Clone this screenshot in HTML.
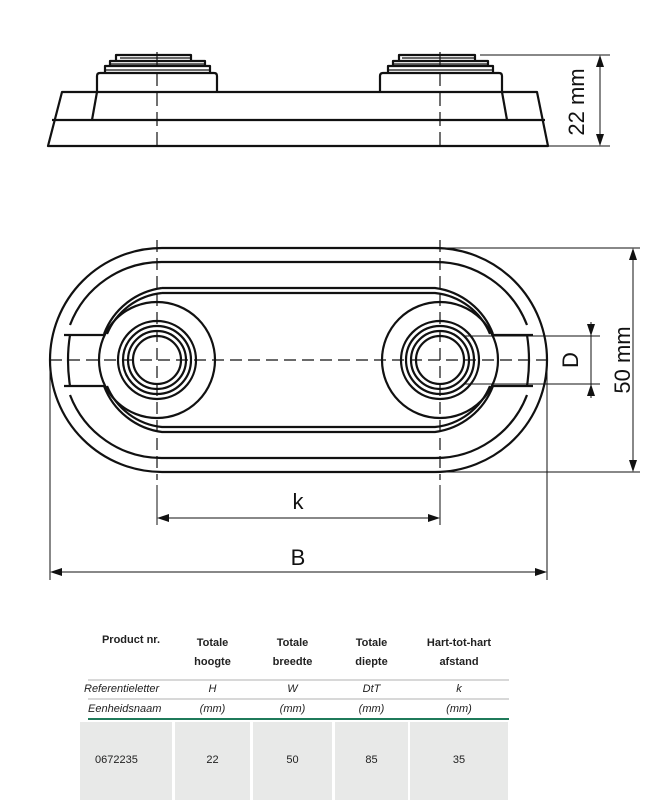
<!DOCTYPE html>
<html><head><style>
body{margin:0;width:664px;height:800px;background:#fff;overflow:hidden;position:relative;font-family:"Liberation Sans",sans-serif}
svg{position:absolute;left:0;top:0}
.t{position:absolute;font-size:11px;color:#222;text-align:center}
.b{font-weight:bold}
.i{font-style:italic}
</style></head><body>
<svg width="664" height="800" viewBox="0 0 664 800" fill="none" stroke="#111">
<g stroke-width="2.2" stroke-linejoin="round">
<polygon points="48,146 548,146 537,92 62,92"/>
<line x1="52" y1="120" x2="545" y2="120"/>
<line x1="97" y1="92" x2="92" y2="120"/><line x1="502" y1="92" x2="507" y2="120"/>
<path d="M97,92 V76 Q97,73 100,73 H214 Q217,73 217,76 V92"/>
<path d="M380,92 V76 Q380,73 383,73 H499 Q502,73 502,76 V92"/>
<path d="M105,73 V66 H210 V73 M110,66 V61 H205 V66 M116,61 V55 H191 V61"/>
<path d="M388,73 V66 H493 V73 M393,66 V61 H488 V66 M399,61 V55 H475 V61"/>
</g>
<g stroke-width="1.2">
<line x1="120" y1="58" x2="190" y2="58"/><line x1="402" y1="58" x2="475" y2="58"/>
<line x1="110" y1="64" x2="205" y2="64"/><line x1="393" y1="64" x2="488" y2="64"/>
<line x1="106" y1="70" x2="210" y2="70"/><line x1="388" y1="70" x2="493" y2="70"/>
</g>
<g stroke-width="1.2" stroke-dasharray="14,6">
<line x1="157" y1="52" x2="157" y2="146"/><line x1="440" y1="52" x2="440" y2="146"/>
</g>
<g stroke-width="1">
<line x1="480" y1="55" x2="610" y2="55"/><line x1="548" y1="146" x2="610" y2="146"/>
<line x1="600" y1="58" x2="600" y2="143"/>
</g>
<path d="M600,55 l-4,12 h8z M600,146 l-4,-12 h8z" fill="#111" stroke="none"/>

<g stroke-width="2.2">
<path d="M162,248 H435 A112,112 0 0 1 435,472 H162 A112,112 0 0 1 162,248Z"/>
<path d="M162,262 H435 A98,98 0 0 1 527,325 M527,395 A98,98 0 0 1 435,458 H162 A98,98 0 0 1 70,395 M70,325 A98,98 0 0 1 162,262"/>
<path d="M162,288 H435 A72,72 0 0 1 493,334 M493,386 A72,72 0 0 1 435,432 H162 A72,72 0 0 1 104,386 M104,334 A72,72 0 0 1 162,288"/>
<path d="M162,293 H435 A67,67 0 0 1 490,334 M490,386 A67,67 0 0 1 435,427 H162 A67,67 0 0 1 107,386 M107,334 A67,67 0 0 1 162,293"/>
<path d="M64,335 H104 M64,386 H104 M533,335 H493 M533,386 H493"/>
<path d="M70,335 Q66,360 70,386 M527,335 Q531,360 527,386"/>
<circle cx="157" cy="360" r="58"/><circle cx="440" cy="360" r="58"/>
<circle cx="157" cy="360" r="39"/><circle cx="440" cy="360" r="39"/>
<circle cx="157" cy="360" r="34"/><circle cx="440" cy="360" r="34"/>
<circle cx="157" cy="360" r="29"/><circle cx="440" cy="360" r="29"/>
<circle cx="157" cy="360" r="24"/><circle cx="440" cy="360" r="24"/>
</g>
<g stroke-width="1.2" stroke-dasharray="12,6">
<line x1="50" y1="360" x2="547" y2="360"/>
<line x1="157" y1="240" x2="157" y2="480"/><line x1="440" y1="240" x2="440" y2="480"/>
</g>
<g stroke-width="1">
<line x1="440" y1="248" x2="640" y2="248"/><line x1="440" y1="472" x2="640" y2="472"/>
<line x1="633" y1="251" x2="633" y2="469"/>
<line x1="464" y1="336" x2="600" y2="336"/><line x1="464" y1="384" x2="600" y2="384"/>
<line x1="591" y1="322" x2="591" y2="398"/>
<line x1="157" y1="485" x2="157" y2="525"/><line x1="440" y1="485" x2="440" y2="525"/>
<line x1="160" y1="518" x2="437" y2="518"/>
<line x1="50" y1="365" x2="50" y2="580"/><line x1="547" y1="365" x2="547" y2="580"/>
<line x1="53" y1="572" x2="544" y2="572"/>
</g>
<path d="M633,248 l-4,12 h8z M633,472 l-4,-12 h8z M591,336 l-4,-12 h8z M591,384 l-4,12 h8z M157,518 l12,-4 v8z M440,518 l-12,-4 v8z M50,572 l12,-4 v8z M547,572 l-12,-4 v8z" fill="#111" stroke="none"/>
<text x="298" y="509" font-size="22" fill="#111" stroke="none" text-anchor="middle" font-family="Liberation Sans">k</text>
<text x="298" y="565" font-size="22" fill="#111" stroke="none" text-anchor="middle" font-family="Liberation Sans">B</text>
<text transform="translate(584,102) rotate(-90)" font-size="22" fill="#111" stroke="none" text-anchor="middle" font-family="Liberation Sans">22 mm</text>
<text transform="translate(630,360) rotate(-90)" font-size="22" fill="#111" stroke="none" text-anchor="middle" font-family="Liberation Sans">50 mm</text>
<text transform="translate(578,360) rotate(-90)" font-size="22" fill="#111" stroke="none" text-anchor="middle" font-family="Liberation Sans">D</text>

<rect x="80" y="722" width="92" height="78" fill="#e8e9e8" stroke="none"/>
<rect x="175" y="722" width="75" height="78" fill="#e8e9e8" stroke="none"/>
<rect x="253" y="722" width="79" height="78" fill="#e8e9e8" stroke="none"/>
<rect x="335" y="722" width="73" height="78" fill="#e8e9e8" stroke="none"/>
<rect x="410" y="722" width="98" height="78" fill="#e8e9e8" stroke="none"/>
<line x1="88" y1="680" x2="509" y2="680" stroke="#ccc" stroke-width="1.5"/>
<line x1="88" y1="699" x2="509" y2="699" stroke="#ccc" stroke-width="1.5"/>
<line x1="88" y1="719" x2="509" y2="719" stroke="#1f7a5a" stroke-width="2"/>
</svg>
<div class="t b" style="left:86px;top:634px;width:90px">Product nr.</div>
<div class="t b" style="left:175px;top:634px;width:75px;line-height:19px">Totale<br>hoogte</div>
<div class="t b" style="left:253px;top:634px;width:79px;line-height:19px">Totale<br>breedte</div>
<div class="t b" style="left:335px;top:634px;width:73px;line-height:19px">Totale<br>diepte</div>
<div class="t b" style="left:410px;top:634px;width:98px;line-height:19px">Hart-tot-hart<br>afstand</div>
<div class="t i" style="left:84px;top:683px;width:94px;text-align:left">Referentieletter</div>
<div class="t i" style="left:175px;top:683px;width:75px">H</div>
<div class="t i" style="left:253px;top:683px;width:79px">W</div>
<div class="t i" style="left:335px;top:683px;width:73px">DtT</div>
<div class="t i" style="left:410px;top:683px;width:98px">k</div>
<div class="t i" style="left:88px;top:703px;width:94px;text-align:left">Eenheidsnaam</div>
<div class="t i" style="left:175px;top:703px;width:75px">(mm)</div>
<div class="t i" style="left:253px;top:703px;width:79px">(mm)</div>
<div class="t i" style="left:335px;top:703px;width:73px">(mm)</div>
<div class="t i" style="left:410px;top:703px;width:98px">(mm)</div>
<div class="t" style="left:95px;top:754px;text-align:left">0672235</div>
<div class="t" style="left:175px;top:754px;width:75px">22</div>
<div class="t" style="left:253px;top:754px;width:79px">50</div>
<div class="t" style="left:335px;top:754px;width:73px">85</div>
<div class="t" style="left:410px;top:754px;width:98px">35</div>
</body></html>
